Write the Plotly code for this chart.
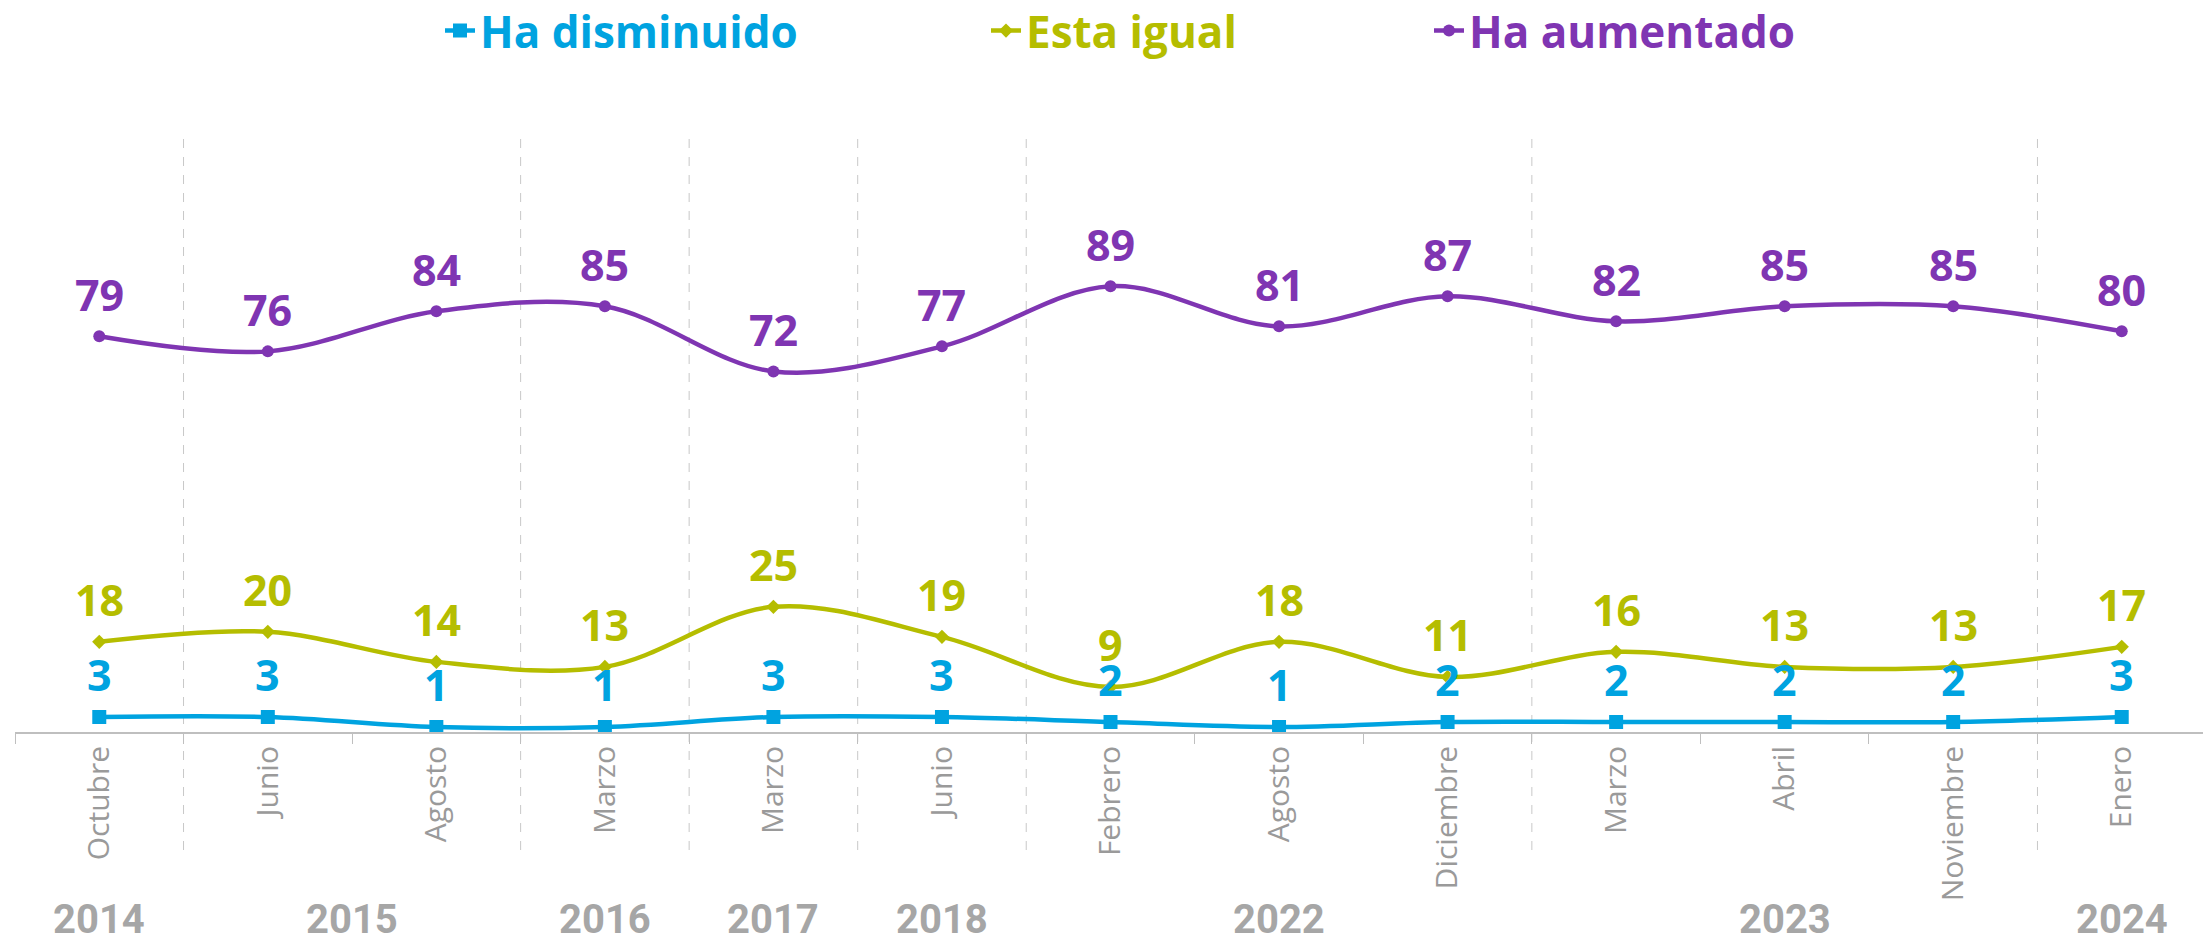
import plotly.graph_objects as go

months = ["Octubre", "Junio", "Agosto", "Marzo", "Marzo", "Junio", "Febrero",
          "Agosto", "Diciembre", "Marzo", "Abril", "Noviembre", "Enero"]
years = ["2014", "2015", "2016", "2017", "2018", "2022", "2023", "2024"]
year_groups = [[0], [1, 2], [3], [4], [5], [6, 7, 8], [9, 10, 11], [12]]

ha_disminuido = [3, 3, 1, 1, 3, 3, 2, 1, 2, 2, 2, 2, 3]
esta_igual = [18, 20, 14, 13, 25, 19, 9, 18, 11, 16, 13, 13, 17]
ha_aumentado = [79, 76, 84, 85, 72, 77, 89, 81, 87, 82, 85, 85, 80]

BLUE = "#00A3E0"
GREEN = "#B5BD00"
PURPLE = "#7F35B2"
LBL_FONT = "Open Sans"
YEAR_FONT = "Roboto"

# page body has an 8px default margin; figure is sized/positioned to compensate
W, H = 2203, 929
PLOT_TOP, PLOT_BOTTOM = 123, 724   # in figure px
PLOT_H = PLOT_BOTTOM - PLOT_TOP

x = list(range(len(months)))

fig = go.Figure()

series = [
    ("Ha disminuido", ha_disminuido, BLUE, "square", 14, "legend"),
    ("Esta igual", esta_igual, GREEN, "diamond", 11, "legend2"),
    ("Ha aumentado", ha_aumentado, PURPLE, "circle", 12, "legend3"),
]
for name, vals, color, sym, msize, lg in series:
    fig.add_trace(go.Scatter(
        x=x, y=vals, name=name, mode="lines+markers",
        line=dict(color=color, width=4.5, shape="spline", smoothing=1),
        marker=dict(symbol=sym, size=msize, color=color),
        legend=lg, cliponaxis=False,
    ))
    for xi, v in zip(x, vals):
        fig.add_annotation(x=xi, y=v, xref="x", yref="y", text=str(v),
                           showarrow=False, yanchor="middle", yshift=42,
                           font=dict(family=LBL_FONT, size=43, color=color,
                                     weight="bold"))

# year separators (dashed)
for b in [0.5, 2.5, 3.5, 4.5, 5.5, 8.5, 11.5]:
    fig.add_shape(type="line", xref="x", yref="paper", x0=b, x1=b,
                  y0=-(850 - 732) / PLOT_H, y1=1,
                  line=dict(color="#c8c8c8", width=1, dash="dash"), layer="below")

# year labels
for yr, grp in zip(years, year_groups):
    cx = sum(grp) / len(grp)
    fig.add_annotation(x=cx, y=-(911 - PLOT_BOTTOM) / PLOT_H, xref="x", yref="paper",
                       text=yr, showarrow=False, yanchor="middle",
                       font=dict(family=YEAR_FONT, size=40, color="#A6A6A6",
                                 weight="bold"))

legend_common = dict(orientation="h", xref="container", yref="container",
                     xanchor="left", yanchor="middle", bgcolor="rgba(0,0,0,0)",
                     itemwidth=30)
LEG_Y = 1 - 23 / H
fig.update_layout(
    width=W, height=H,
    margin=dict(l=7, r=5, t=PLOT_TOP, b=H - PLOT_BOTTOM),
    plot_bgcolor="white", paper_bgcolor="white",
    showlegend=True,
    legend=dict(**legend_common, x=432 / W, y=LEG_Y,
                font=dict(family=LBL_FONT, size=44, color=BLUE, weight="bold")),
    legend2=dict(**legend_common, x=978 / W, y=LEG_Y,
                 font=dict(family=LBL_FONT, size=44, color=GREEN, weight="bold")),
    legend3=dict(**legend_common, x=1421 / W, y=LEG_Y,
                 font=dict(family=LBL_FONT, size=44, color=PURPLE, weight="bold")),
    xaxis=dict(
        range=[-0.5, 12.5], tickmode="array", tickvals=x, ticktext=months,
        tickangle=-90, ticks="", showgrid=False, zeroline=False,
        showline=True, linecolor="#bfbfbf", linewidth=2,
        tickfont=dict(family=LBL_FONT, size=30, color="#9a9a9a"),
        ticklabelstandoff=0,
        minor=dict(tickmode="array", tickvals=[i - 0.5 for i in range(14)],
                   ticks="outside", ticklen=10, tickcolor="#bfbfbf", tickwidth=1,
                   showgrid=False),
    ),
    yaxis=dict(range=[0, 120], visible=False, showgrid=False, zeroline=False),
)

fig.write_html("out.html")
